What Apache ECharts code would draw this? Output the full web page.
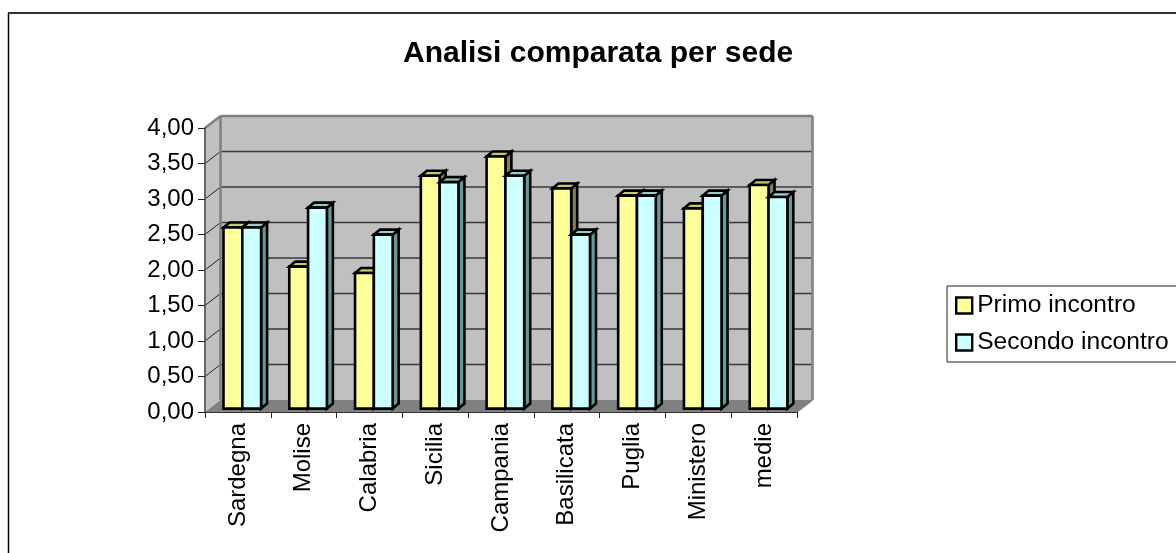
<!DOCTYPE html>
<html>
<head>
<meta charset="utf-8">
<style>html,body{margin:0;padding:0;background:#fff}#chart{width:1176px;height:553px}</style>
<script src="https://cdn.jsdelivr.net/npm/echarts@6/dist/echarts.min.js"></script>
</head>
<body>
<div id="chart"></div>
<script>
const categories = ['Sardegna','Molise','Calabria','Sicilia','Campania','Basilicata','Puglia','Ministero','medie'];
const primoIncontro = [2.55,2.00,1.91,3.28,3.55,3.10,3.00,2.82,3.15];
const secondoIncontro = [2.55,2.83,2.45,3.19,3.28,2.45,3.00,3.00,2.98];
const FONT = '"Liberation Sans", Arial, sans-serif';

// Depth of the pseudo-3D box and of the bars, in pixels
const WALL_DX = 15.5, WALL_DY = 12;
const BAR_OFF_X = 3.7, BAR_OFF_Y = 3.4, BAR_DX = 6, BAR_DY = 5;
const BAR_W = 18.8, BAR_GAP_LEFT = 14.8;

// Back wall, side wall, floor and grid lines of the box
function renderWalls(params, api) {
  const cs = params.coordSys;
  const l = cs.x, r = cs.x + cs.width, t = cs.y, b = cs.y + cs.height;
  const gray = { stroke: '#808080', lineWidth: 2.5 };
  const kids = [
    { type: 'polygon', shape: { points: [[l,b],[l+WALL_DX,b-WALL_DY],[l+WALL_DX,t-WALL_DY],[l,t]] },
      style: { fill: '#c0c0c0' } },
    { type: 'rect', shape: { x: l+WALL_DX, y: t-WALL_DY, width: cs.width, height: cs.height },
      style: { fill: '#c0c0c0' } },
    { type: 'polygon', shape: { points: [[l,b],[r,b],[r+WALL_DX,b-WALL_DY],[l+WALL_DX,b-WALL_DY]] },
      style: { fill: '#808080' } }
  ];
  for (let v = 0.5; v < 4; v += 0.5) {
    const y = api.coord([0, v])[1];
    kids.push({ type: 'line', shape: { x1: l+WALL_DX, y1: y-WALL_DY, x2: r+WALL_DX, y2: y-WALL_DY },
      style: { stroke: '#3a3a3a', lineWidth: 1.5 } });
    kids.push({ type: 'line', shape: { x1: l, y1: y, x2: l+WALL_DX, y2: y-WALL_DY },
      style: { stroke: '#222', lineWidth: 1 } });
  }
  kids.push(
    { type: 'line', shape: { x1: l+WALL_DX, y1: t-WALL_DY, x2: r+WALL_DX, y2: t-WALL_DY }, style: gray },
    { type: 'line', shape: { x1: l+WALL_DX, y1: t-WALL_DY, x2: l+WALL_DX, y2: b-WALL_DY }, style: gray },
    { type: 'line', shape: { x1: r+WALL_DX, y1: t-WALL_DY, x2: r+WALL_DX, y2: b-WALL_DY }, style: gray },
    { type: 'line', shape: { x1: l, y1: t, x2: l+WALL_DX, y2: t-WALL_DY }, style: gray },
    { type: 'line', shape: { x1: r, y1: b, x2: r+WALL_DX, y2: b-WALL_DY }, style: { stroke: '#808080', lineWidth: 1.5 } }
  );
  return { type: 'group', children: kids };
}

// One extruded bar: front face, top face, side face
function barRenderer(slot, front, top, side) {
  return function (params, api) {
    const idx = api.value(0), val = api.value(1);
    const band = api.size([1, 0])[0];
    const x0 = api.coord([idx, 0])[0] - band / 2 + BAR_OFF_X + BAR_GAP_LEFT + slot * BAR_W;
    const yb = api.coord([idx, 0])[1] - BAR_OFF_Y;
    const yt = api.coord([idx, val])[1] - BAR_OFF_Y;
    const x1 = x0 + BAR_W;
    const edge = { stroke: '#000', lineWidth: 2.6, lineJoin: 'miter' };
    return { type: 'group', children: [
      { type: 'polygon', shape: { points: [[x1,yb],[x1+BAR_DX,yb-BAR_DY],[x1+BAR_DX,yt-BAR_DY],[x1,yt]] },
        style: Object.assign({ fill: side }, edge) },
      { type: 'polygon', shape: { points: [[x0,yt],[x1,yt],[x1+BAR_DX,yt-BAR_DY],[x0+BAR_DX,yt-BAR_DY]] },
        style: Object.assign({ fill: top }, edge) },
      { type: 'rect', shape: { x: x0, y: yt, width: BAR_W, height: yb - yt },
        style: Object.assign({ fill: front }, edge) }
    ] };
  };
}

const chart = echarts.init(document.getElementById('chart'), null, { renderer: 'canvas' });
chart.setOption({
  animation: false,
  backgroundColor: '#fff',
  textStyle: { fontFamily: FONT },
  title: {
    text: 'Analisi comparata per sede',
    left: 403, top: 39, padding: 0,
    textStyle: { fontFamily: FONT, fontWeight: 'bold', fontSize: 30, color: '#000' }
  },
  legend: {
    left: 947, top: 286,
    orient: 'vertical',
    padding: [7, 24, 7, 8],
    itemGap: 12,
    itemWidth: 16, itemHeight: 16,
    icon: 'rect',
    backgroundColor: '#fff',
    borderColor: '#222', borderWidth: 1,
    selectedMode: false,
    itemStyle: { borderColor: '#000', borderWidth: 2.4 },
    textStyle: { fontFamily: FONT, fontSize: 24.6, color: '#000' },
    data: ['Primo incontro', 'Secondo incontro']
  },
  grid: { left: 205, right: 379, top: 128, bottom: 141, containLabel: false },
  xAxis: {
    type: 'category', data: categories, z: 5,
    axisLine: { lineStyle: { color: '#333', width: 1 } },
    axisTick: { show: true, length: 6, alignWithLabel: false, lineStyle: { color: '#222', width: 1 } },
    axisLabel: { rotate: 90, interval: 0, margin: 11, fontFamily: FONT, fontSize: 24, color: '#000' }
  },
  yAxis: {
    type: 'value', min: 0, max: 4, interval: 0.5, z: 5,
    splitLine: { show: false },
    axisLine: { show: true, lineStyle: { color: '#666', width: 2 } },
    axisTick: { show: true, length: 7, lineStyle: { color: '#222', width: 1 } },
    axisLabel: { margin: 11, fontFamily: FONT, fontSize: 24, color: '#000',
      formatter: v => v.toFixed(2).replace('.', ',') }
  },
  series: [
    { type: 'custom', name: 'box', silent: true, clip: false, z: 1, data: [[0, 0]],
      renderItem: renderWalls, encode: { x: 0, y: 1 } },
    { type: 'custom', name: 'Primo incontro', clip: false, z: 2,
      itemStyle: { color: '#ffff99' },
      data: primoIncontro.map((v, i) => [i, v]), encode: { x: 0, y: 1 },
      renderItem: barRenderer(0, '#ffff99', '#c8c86a', '#808055') },
    { type: 'custom', name: 'Secondo incontro', clip: false, z: 3,
      itemStyle: { color: '#ccffff' },
      data: secondoIncontro.map((v, i) => [i, v]), encode: { x: 0, y: 1 },
      renderItem: barRenderer(1, '#ccffff', '#99cccc', '#669999') }
  ],
  graphic: [
    // Outer frame: only the left and top edges fall inside the page
    { type: 'line', z: 10, shape: { x1: 8.5, y1: 13, x2: 8.5, y2: 553 }, style: { stroke: '#000', lineWidth: 1.5 } },
    { type: 'line', z: 10, shape: { x1: 8, y1: 13, x2: 1176, y2: 13 }, style: { stroke: '#333', lineWidth: 2 } }
  ]
});
</script>
</body>
</html>
